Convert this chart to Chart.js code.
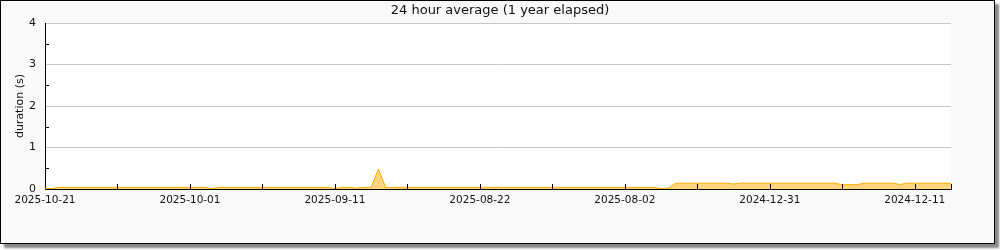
<!DOCTYPE html>
<html>
<head>
<meta charset="utf-8">
<script src="https://cdn.jsdelivr.net/npm/chart.js@4/dist/chart.umd.min.js"></script>
<style>
  body { margin: 0; background: #fff; }
  #frame {
    position: absolute; left: 0; top: 0;
    width: 993px; height: 242px;
    border: 1px solid #000;
    background: #f9f9f9;
    box-shadow: 4px 4px 2px #888;
  }
  #wrap { position: absolute; left: 0; top: 0; width: 1000px; height: 250px; }
</style>
</head>
<body>
<div id="frame"></div>
<div id="wrap"><canvas id="chart" width="1000" height="250"></canvas></div>
<script>
// tick labels, one every 20 days (ticks every 10)
const xTickLabels = ['2025-10-21', '2025-10-01', '2025-09-11', '2025-08-22', '2025-08-02', '2024-12-31', '2024-12-11'];
const yTicks = [0, 1, 2, 3, 4];

// daily 24h average duration (s), left to right
const durations = [
  0.01, 0.01,
  0.04, 0.04, 0.04, 0.04, 0.04, 0.04, 0.04, 0.04, 0.04, 0.04, 0.04, 0.04, 0.04, 0.04, 0.04, 0.04, 0.04, 0.04, 0.04, 0.04, 0.04,
  0.01,
  0.04, 0.04, 0.04, 0.04, 0.04, 0.04, 0.04, 0.04, 0.04, 0.04, 0.04, 0.04, 0.04, 0.04, 0.04, 0.04,
  0.01,
  0.04, 0.04,
  0.02,
  0.04, 0.04,
  0.48,
  0.04, 0.04, 0.04, 0.04, 0.04, 0.04, 0.04, 0.04, 0.04, 0.04, 0.04, 0.04, 0.04, 0.04, 0.04, 0.04, 0.04, 0.04, 0.04,
  0.04, 0.04, 0.04, 0.04, 0.04, 0.04, 0.04, 0.04, 0.04, 0.04, 0.04, 0.04, 0.04, 0.04, 0.04, 0.04, 0.04, 0.04, 0.04,
  0.01,
  0.02,
  0.14, 0.14, 0.14, 0.14, 0.14, 0.14, 0.14, 0.14,
  0.12,
  0.14, 0.14, 0.14, 0.14, 0.14, 0.14, 0.14, 0.14, 0.14, 0.14, 0.14, 0.14, 0.14, 0.14,
  0.105, 0.105, 0.105,
  0.14, 0.14, 0.14, 0.14, 0.14,
  0.11,
  0.14, 0.14, 0.14, 0.14, 0.14, 0.14, 0.14
];

const FONT = "'DejaVu Sans', sans-serif";

// white plot area + inward tick marks
const plotDecor = {
  id: 'plotDecor',
  beforeDraw(chart) {
    const a = chart.chartArea, ctx = chart.ctx;
    ctx.save();
    ctx.fillStyle = '#fff';
    ctx.fillRect(a.left, a.top, a.right - a.left, a.bottom - a.top);
    ctx.restore();
  },
  afterDraw(chart) {
    const ctx = chart.ctx, x = chart.scales.x, y = chart.scales.y;
    ctx.save();
    ctx.strokeStyle = '#000';
    ctx.lineWidth = 1;
    ctx.beginPath();
    x.ticks.forEach(t => {
      if (t.value === x.min) return;
      const px = Math.round(x.getPixelForValue(t.value)) + 0.5;
      ctx.moveTo(px, y.bottom);
      ctx.lineTo(px, y.bottom - 5);
    });
    for (let i = 0; i < yTicks.length - 1; i++) {
      const py = Math.round(y.getPixelForValue((yTicks[i] + yTicks[i + 1]) / 2)) + 0.5;
      ctx.moveTo(x.left, py);
      ctx.lineTo(x.left + 4, py);
    }
    ctx.stroke();
    ctx.restore();
  }
};

new Chart(document.getElementById('chart'), {
  type: 'line',
  plugins: [plotDecor],
  data: {
    datasets: [{
      data: durations.map((v, i) => ({ x: i, y: v })),
      borderColor: '#ffaa00',
      backgroundColor: 'rgba(255,170,0,0.5)',
      borderWidth: 1,
      fill: 'origin',
      pointRadius: 0,
      tension: 0
    }]
  },
  options: {
    responsive: false,
    animation: false,
    layout: { padding: 0 },
    plugins: {
      legend: { display: false },
      tooltip: { enabled: false },
      title: {
        display: true,
        text: '24 hour average (1 year elapsed)',
        color: '#111',
        font: { family: FONT, size: 13, weight: 'normal' },
        padding: { top: 3, bottom: 4.5 }
      }
    },
    scales: {
      x: {
        type: 'linear',
        min: 0,
        max: durations.length - 1,
        grid: { display: false },
        border: { display: true, color: '#000', width: 1 },
        ticks: {
          stepSize: 10,
          autoSkip: false,
          maxRotation: 0,
          padding: -3,
          color: '#111',
          font: { family: FONT, size: 10.5 },
          callback: v => (v % 20 === 0 ? xTickLabels[v / 20] : '')
        },
        afterFit: s => { s.height = 61; }
      },
      y: {
        min: 0,
        max: 4,
        grid: { color: '#c8c8c8', drawTicks: false },
        border: { display: true, color: '#000', width: 1 },
        ticks: {
          stepSize: 1,
          padding: 9,
          color: '#111',
          font: { family: FONT, size: 11 }
        },
        title: {
          display: true,
          text: 'duration (s)',
          color: '#111',
          font: { family: FONT, size: 11 },
          padding: { top: 14, bottom: 0 }
        },
        afterFit: s => { s.width = 45; }
      },
      // empty right margin so the title centres on the whole frame
      gutter: {
        axis: 'y',
        position: 'right',
        display: true,
        grid: { display: false },
        border: { display: false },
        ticks: { display: false },
        afterFit: s => { s.width = 49; }
      }
    }
  }
});
</script>
</body>
</html>
